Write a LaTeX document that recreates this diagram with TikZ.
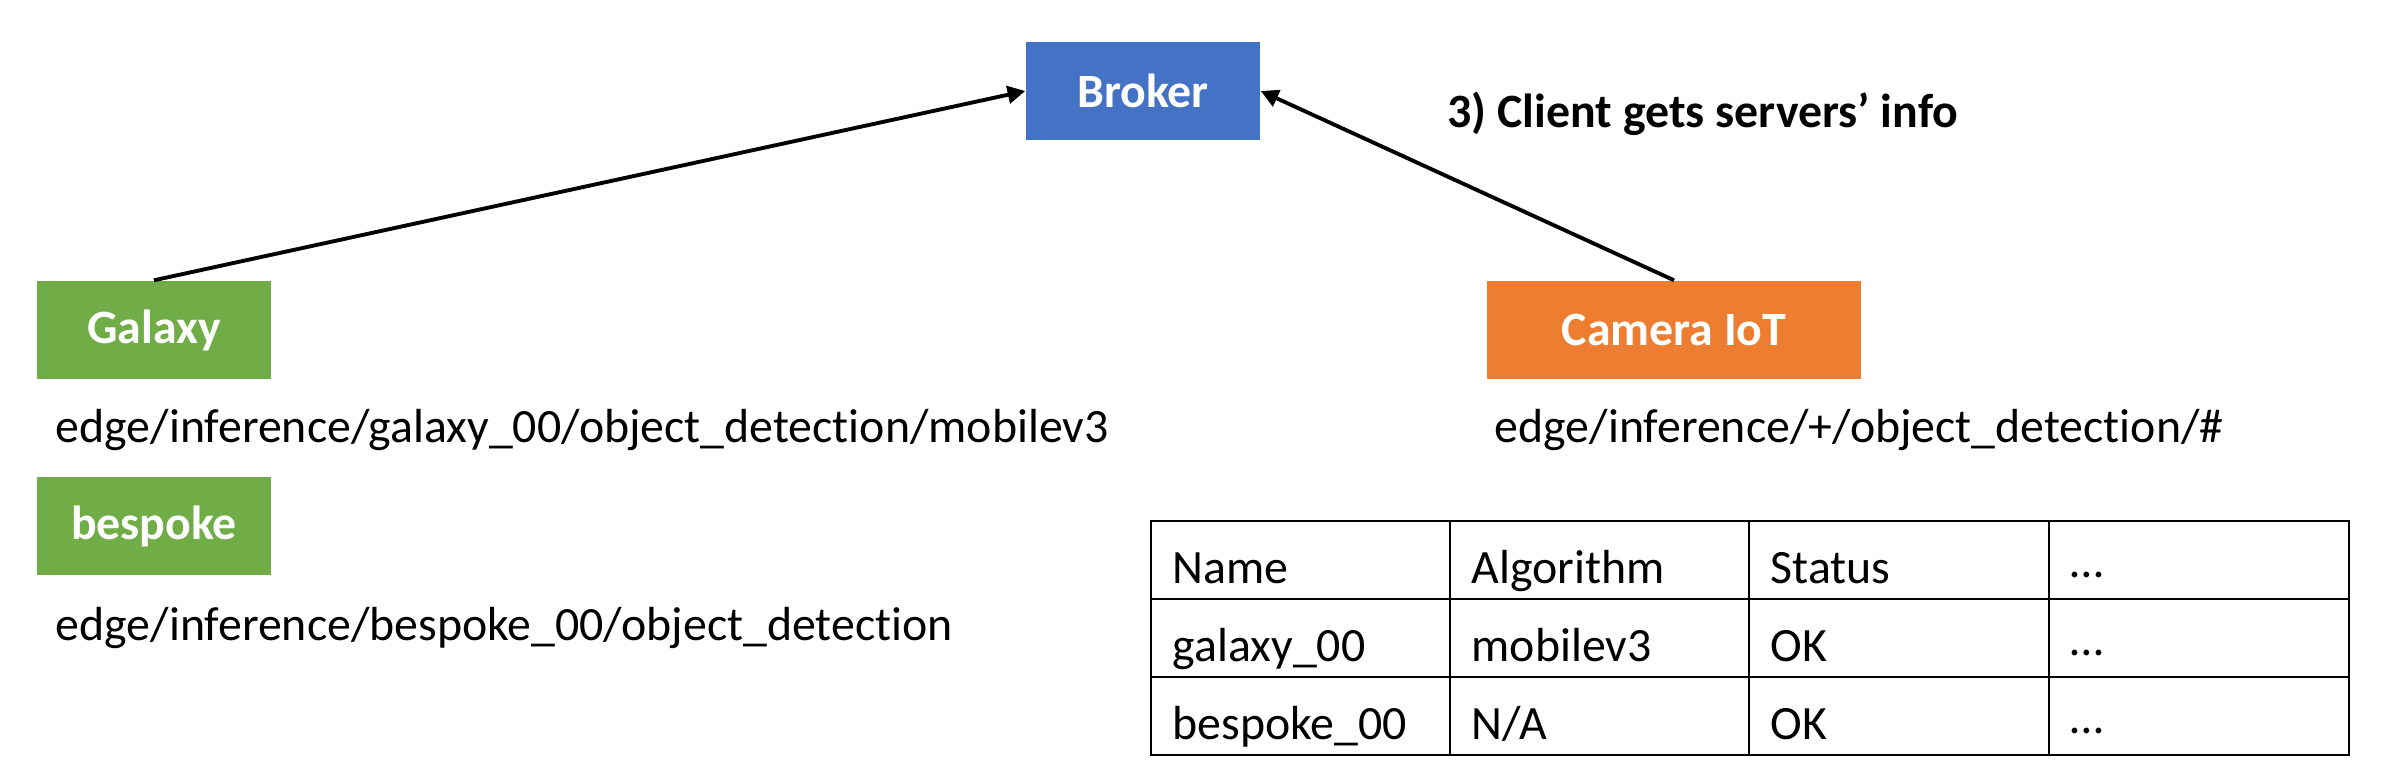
\documentclass[tikz,border=0pt]{standalone}
\usepackage{fontspec}
\setmainfont{Carlito}[Ligatures=NoCommon]
\usetikzlibrary{arrows.meta}
\definecolor{brokerblue}{HTML}{4472C4}
\definecolor{nodegreen}{HTML}{70AD47}
\definecolor{camorange}{HTML}{ED7D31}

\begin{document}
\begin{tikzpicture}[x=0.01cm, y=-0.01cm, font=\fontsize{13.6}{16}\selectfont,
    devbox/.style={fill=#1, text=white, font=\fontsize{13.6}{16}\selectfont\bfseries,
      minimum height=0.98cm, inner sep=0pt},
    topic/.style={anchor=base west, inner sep=0pt},
    cell/.style={anchor=base west, inner sep=0pt}]
      \useasboundingbox (0,0) rectangle (2384,778);
      \def\rowh{78}

      \node[devbox=brokerblue, minimum width=2.34cm] (broker) at (1143,91) {Broker};
      \node[devbox=nodegreen, minimum width=2.34cm] (galaxy) at (154,330) {Galaxy};
      \node[devbox=nodegreen, minimum width=2.34cm] (bespoke) at (154,526) {bespoke};
      \node[devbox=camorange, minimum width=3.74cm] (camera) at (1674,330) {Camera IoT};

      \node[topic] (galaxytopic) at (55,442) {edge/inference/galaxy\_00/object\_detection/mobilev3};
      \node[topic] (bespoketopic) at (55,640) {edge/inference/bespoke\_00/object\_detection};
      \node[topic] (cameratopic) at (1494,442) {edge/inference/+/object\_detection/\#};
      \node[topic, font=\fontsize{13.6}{16}\selectfont\bfseries] (clientinfo) at (1447,127) {3) Client gets servers’ info};

      \draw[line width=1.1pt, -{Triangle[length=5pt,width=5pt]}] (galaxy.north) -- (broker.west);
      \draw[line width=1.1pt, -{Triangle[length=5pt,width=5pt]}] (camera.north) -- (broker.east);

      % server table
      \draw[line width=0.8pt] (1151,521) rectangle (2349,755);
      \draw[line width=0.8pt] (1151,521+\rowh) -- (2349,521+\rowh);
      \draw[line width=0.8pt] (1151,521+2*\rowh) -- (2349,521+2*\rowh);
      \draw[line width=0.8pt] (1450,521) -- (1450,755);
      \draw[line width=0.8pt] (1749,521) -- (1749,755);
      \draw[line width=0.8pt] (2049,521) -- (2049,755);

      \node[cell] (name) at (1172,583) {Name};
      \node[cell] (algo) at (1471,583) {Algorithm};
      \node[cell] (status) at (1770,583) {Status};
      \node[cell] (more) at (2070,577) {…};

      \node[cell] (galaxyname) at (1172,583+\rowh) {galaxy\_00};
      \node[cell] (galaxyalgo) at (1471,583+\rowh) {mobilev3};
      \node[cell] (galaxystatus) at (1770,583+\rowh) {OK};
      \node[cell] (galaxymore) at (2070,577+\rowh) {…};

      \node[cell] (bespokename) at (1172,583+2*\rowh) {bespoke\_00};
      \node[cell] (bespokealgo) at (1471,583+2*\rowh) {N/A};
      \node[cell] (bespokestatus) at (1770,583+2*\rowh) {OK};
      \node[cell] (bespokemore) at (2070,577+2*\rowh) {…};
    \end{tikzpicture}
\end{document}
